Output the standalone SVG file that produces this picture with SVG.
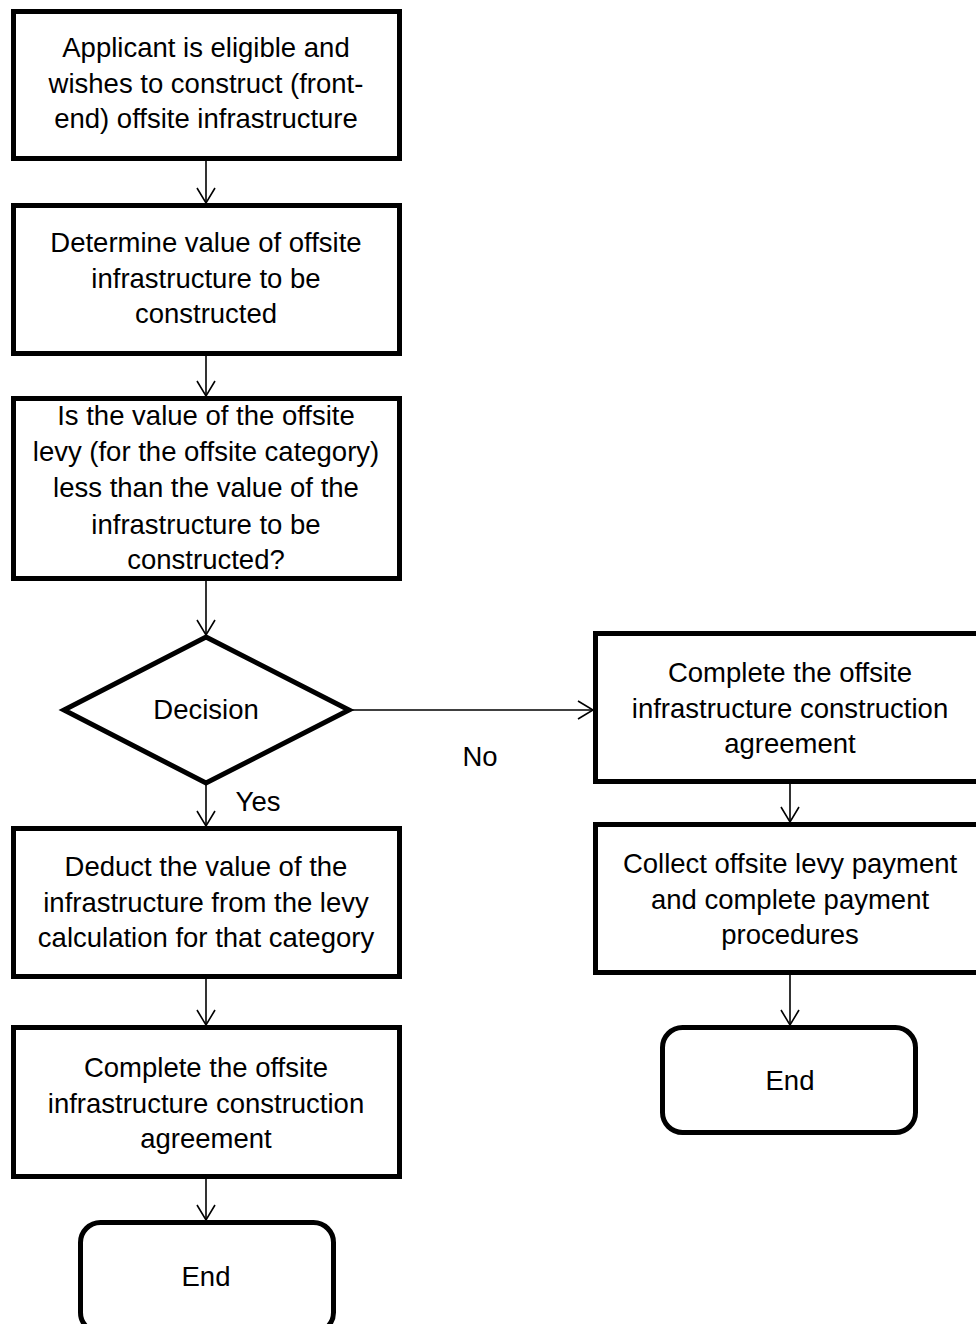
<svg xmlns="http://www.w3.org/2000/svg" width="976" height="1324" viewBox="0 0 976 1324">
<defs>
<marker id="arr" markerUnits="userSpaceOnUse" markerWidth="20" markerHeight="20" refX="0" refY="0" orient="auto" overflow="visible">
<path d="M -15 -9 L 0 0 L -15 9" fill="none" stroke="#000" stroke-width="1.6"/>
</marker>
</defs>
<style>
.box{fill:#fff;stroke:#000;stroke-width:5}
.t{font-family:"Liberation Sans",Arial,sans-serif;font-size:27.5px;fill:#000;text-anchor:middle}
.c{fill:none;stroke:#000;stroke-width:1.6;marker-end:url(#arr)}
</style>
<rect width="976" height="1324" fill="#fff"/>
<g id="connectors">
<line class="c" x1="206" y1="161" x2="206" y2="203"/>
<line class="c" x1="206" y1="356" x2="206" y2="396"/>
<line class="c" x1="206" y1="581" x2="206" y2="635"/>
<line class="c" x1="206" y1="784" x2="206" y2="826"/>
<line class="c" x1="206" y1="979" x2="206" y2="1025"/>
<line class="c" x1="206" y1="1179" x2="206" y2="1220"/>
<line class="c" x1="350" y1="710" x2="593" y2="710"/>
<line class="c" x1="790" y1="784" x2="790" y2="822"/>
<line class="c" x1="790" y1="975" x2="790" y2="1025"/>
</g>
<g id="n1">
<rect class="box" x="13.5" y="11.5" width="386" height="147"/>
<text class="t" x="206" y="57">Applicant is eligible and</text>
<text class="t" x="206" y="92.5">wishes to construct (front-</text>
<text class="t" x="206" y="128">end) offsite infrastructure</text>
</g>
<g id="n2">
<rect class="box" x="13.5" y="205.5" width="386" height="148"/>
<text class="t" x="206" y="252">Determine value of offsite</text>
<text class="t" x="206" y="287.5">infrastructure to be</text>
<text class="t" x="206" y="323">constructed</text>
</g>
<g id="n3">
<rect class="box" x="13.5" y="398.5" width="386" height="180"/>
<text class="t" x="206" y="425">Is the value of the offsite</text>
<text class="t" x="206" y="461">levy (for the offsite category)</text>
<text class="t" x="206" y="497">less than the value of the</text>
<text class="t" x="206" y="533.5">infrastructure to be</text>
<text class="t" x="206" y="569">constructed?</text>
</g>
<g id="decision">
<polygon class="box" points="206,637 349,710 206,783 64,710" stroke-linejoin="miter"/>
<text class="t" x="206" y="719">Decision</text>
</g>
<g id="labels">
<text class="t" x="480" y="766">No</text>
<text class="t" x="258" y="811">Yes</text>
</g>
<g id="n4">
<rect class="box" x="13.5" y="828.5" width="386" height="148"/>
<text class="t" x="206" y="876">Deduct the value of the</text>
<text class="t" x="206" y="911.5">infrastructure from the levy</text>
<text class="t" x="206" y="947">calculation for that category</text>
</g>
<g id="n5">
<rect class="box" x="13.5" y="1027.5" width="386" height="149"/>
<text class="t" x="206" y="1077">Complete the offsite</text>
<text class="t" x="206" y="1112.5">infrastructure construction</text>
<text class="t" x="206" y="1148">agreement</text>
</g>
<g id="end1">
<rect class="box" x="80.5" y="1222.5" width="253" height="110" rx="20"/>
<text class="t" x="206" y="1286">End</text>
</g>
<g id="r1">
<rect class="box" x="595.5" y="633.5" width="392" height="148"/>
<text class="t" x="790" y="682">Complete the offsite</text>
<text class="t" x="790" y="717.5">infrastructure construction</text>
<text class="t" x="790" y="753">agreement</text>
</g>
<g id="r2">
<rect class="box" x="595.5" y="824.5" width="392" height="148"/>
<text class="t" x="790" y="873">Collect offsite levy payment</text>
<text class="t" x="790" y="908.5">and complete payment</text>
<text class="t" x="790" y="944">procedures</text>
</g>
<g id="end2">
<rect class="box" x="662.5" y="1027.5" width="253" height="105" rx="20"/>
<text class="t" x="790" y="1090">End</text>
</g>
</svg>
